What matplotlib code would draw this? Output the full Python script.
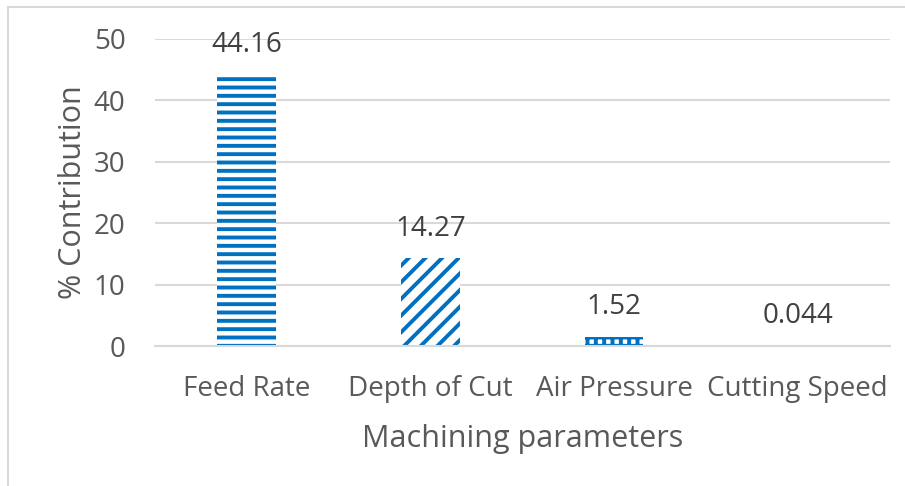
import matplotlib
matplotlib.use('Agg')
import matplotlib.pyplot as plt
from matplotlib.lines import Line2D

# data
parametros = ['Feed Rate', 'Depth of Cut', 'Air Pressure', 'Cutting Speed']
contribucion = [44.16, 14.27, 1.52, 0.044]
etiquetas = ['44.16', '14.27', '1.52', '0.044']
y_ticks = [0, 10, 20, 30, 40, 50]

plt.rcParams['font.family'] = ['Open Sans', 'DejaVu Sans']
plt.rcParams['hatch.color'] = '#0070C0'
plt.rcParams['hatch.linewidth'] = 2.8

azul = '#0070C0'
gris_texto = '#595959'
gris_linea = '#D9D9D9'

fig = plt.figure(figsize=(9.05, 4.86), dpi=100)
ax = fig.add_axes([0.171, 0.288, 0.812, 0.632])

tramas = ['--', '//', '++', '--']
x = range(len(parametros))
barras = ax.bar(x, contribucion, width=0.32, color='white', edgecolor='none',
                zorder=2)
for b, h in zip(barras, tramas):
    b.set_hatch(h)
    b.set_edgecolor(azul)
    b.set_linewidth(0)

for xi, v, t in zip(x, contribucion, etiquetas):
    ax.annotate(t, (xi, v), xytext=(0, 11), textcoords='offset points',
                ha='center', va='bottom', fontsize=20, color='#404040')

ax.set_xlim(-0.5, 3.5)
ax.set_ylim(0, 50)
ax.set_yticks(y_ticks)
ax.set_xticks(list(x))
ax.set_xticklabels(parametros)
ax.tick_params(axis='both', length=0, labelsize=20, colors=gris_texto)
ax.tick_params(axis='y', pad=21)
ax.tick_params(axis='x', pad=21)
ax.yaxis.grid(True, color=gris_linea, linewidth=1.5, zorder=0)
ax.set_axisbelow(True)
for s in ['top', 'right', 'left']:
    ax.spines[s].set_visible(False)
ax.spines['bottom'].set_color(gris_linea)
ax.spines['bottom'].set_linewidth(1.5)

ax.set_xlabel('Machining parameters', fontsize=22, color=gris_texto, labelpad=15)
ax.set_ylabel('% Contribution', fontsize=22, color=gris_texto, labelpad=4)

# borde del gráfico
fig.add_artist(Line2D([8 / 905, 8 / 905], [0, 1 - 7 / 486],
                      transform=fig.transFigure, color=gris_linea, linewidth=1.5))
fig.add_artist(Line2D([8 / 905, 1], [1 - 7 / 486, 1 - 7 / 486],
                      transform=fig.transFigure, color=gris_linea, linewidth=1.5))

fig.savefig('out.png', dpi=100)
